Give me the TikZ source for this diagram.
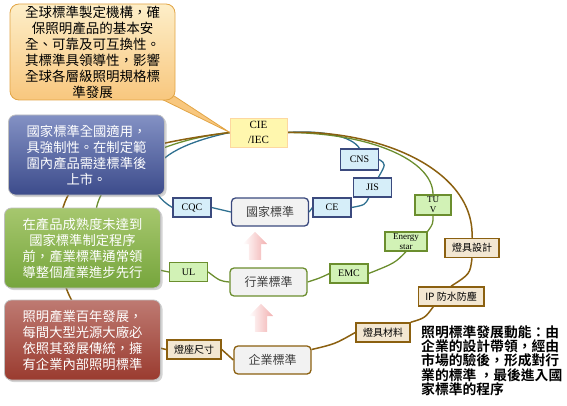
\documentclass[tikz,border=0pt]{standalone}
\usepackage{fontspec}
\usetikzlibrary{shapes.arrows,shadows,backgrounds,positioning}
\newfontfamily\cjk{Noto Sans CJK TC}[BoldFont={Noto Sans CJK TC Bold}]
\newfontfamily\lat{Liberation Serif}

\definecolor{noteTop}{HTML}{FDEEC8}
\definecolor{noteBot}{HTML}{F8C77E}
\definecolor{noteEdge}{HTML}{E2A546}
\definecolor{natTop}{HTML}{8391C4}
\definecolor{natBot}{HTML}{3C4B8B}
\definecolor{indTop}{HTML}{A6C76E}
\definecolor{indBot}{HTML}{76A53C}
\definecolor{entTop}{HTML}{BE7A72}
\definecolor{entBot}{HTML}{9A3B2F}
\definecolor{lineBlue}{HTML}{2F7090}
\definecolor{lineGreen}{HTML}{6B8E2E}
\definecolor{lineBrown}{HTML}{8B6010}
\definecolor{edgeBlue}{HTML}{3B4A7E}
\definecolor{tagBlue}{HTML}{D6EEF9}
\definecolor{tagGreen}{HTML}{D2F2B6}
\definecolor{tagBrown}{HTML}{F3E7D2}
\definecolor{cieFill}{HTML}{FFF7AE}
\definecolor{arrowPink}{HTML}{F2AFAF}

\tikzset{
  bigbox/.style={rounded corners=7pt, draw=white!75!black, line width=0.8pt,
    minimum width=156pt, minimum height=80pt, inner sep=0pt, align=center,
    text=white, font=\cjk\fontsize{13.3}{16}\selectfont,
    drop shadow={opacity=0.35, shadow xshift=2pt, shadow yshift=-2pt}},
  stdnode/.style={rounded corners=4pt, fill=black!5, line width=1.3pt,
    minimum width=77pt, minimum height=28pt, text=black!75,
    font=\cjk\fontsize{12}{14}\selectfont},
  bluetag/.style={draw=edgeBlue, fill=tagBlue, line width=1.2pt,
    minimum width=38pt, minimum height=19pt, inner sep=0pt,
    font=\lat\fontsize{10}{10}\selectfont},
  greentag/.style={draw=lineGreen, fill=tagGreen, line width=1.2pt,
    minimum width=38pt, minimum height=19pt, inner sep=0pt, align=center,
    font=\lat\fontsize{10}{10}\selectfont},
  browntag/.style={draw=lineBrown, fill=tagBrown, line width=1.5pt,
    minimum height=19pt, inner xsep=7pt, inner ysep=0pt,
    font=\cjk\fontsize{10}{10}\selectfont},
  uparrow/.style={single arrow, rotate=90, minimum height=28pt, inner sep=6pt,
    single arrow head extend=6pt, left color=white, right color=arrowPink},
  blueline/.style={draw=lineBlue, line width=1.3pt},
  greenline/.style={draw=lineGreen, line width=1.3pt},
  brownline/.style={draw=lineBrown, line width=1.5pt}
}

\begin{document}
\begin{tikzpicture}[x=1pt,y=-1pt]
\useasboundingbox (0,0) rectangle (567,406);

%CIE/IEC
\node[fill=cieFill, draw=noteTop!80!orange, minimum width=57pt, minimum height=29pt,
  inner sep=0pt, align=center, font=\lat\fontsize{11}{15}\selectfont] (cie) at (258.5,132.5) {CIE\\/IEC};

%Callout
\filldraw[fill=noteBot, draw=noteEdge, line width=0.8pt] (147,92) -- (cie.west) -- (168,92) -- cycle;
\node[rounded corners=9pt, top color=noteTop, bottom color=noteBot, draw=noteEdge, line width=0.8pt,
  minimum width=165pt, minimum height=96pt, inner sep=0pt, align=center,
  font=\cjk\fontsize{13.5}{16}\selectfont] (note) at (92.5,52)
  {全球標準製定機構，確\\保照明產品的基本安\\全、可靠及可互換性。\\其標準具領導性，影響\\全球各層級照明規格標\\準發展};

%Explanation boxes
\node[bigbox, top color=natTop, bottom color=natBot] (natbox) at (86.5,155)
  {國家標準全國適用，\\具強制性。在制定範\\圍內產品需達標準後\\上市。};
\node[bigbox, top color=indTop, bottom color=indBot] (indbox) at (82.5,248)
  {在產品成熟度未達到\\國家標準制定程序\\前，產業標準通常領\\導整個產業進步先行};
\node[bigbox, top color=entTop, bottom color=entBot] (entbox) at (82.5,340)
  {照明產業百年發展，\\每間大型光源大廠必\\依照其發展傳統，擁\\有企業內部照明標準};

%Standard levels
\node[stdnode, draw=edgeBlue] (guo) at (270,212) {國家標準};
\node[stdnode, draw=lineGreen] (hang) at (268.5,282) {行業標準};
\node[stdnode, draw=lineBrown] (qiye) at (272.5,360) {企業標準};
\node[uparrow] (up1) at (255,249) {};
\node[uparrow] (up2) at (261,321) {};

%National tags
\node[bluetag] (cqc) at (192,207.5) {CQC};
\node[bluetag] (ce) at (332,207.5) {CE};
\node[bluetag] (jis) at (372.5,187.5) {JIS};
\node[bluetag, minimum height=21pt] (cns) at (359.5,159.5) {CNS};

%Industry tags
\node[greentag] (ul) at (188.5,272) {UL};
\node[greentag] (emc) at (349,273.5) {EMC};
\node[greentag, minimum width=42pt, font=\lat\fontsize{9}{10}\selectfont] (energy) at (406,241.5) {Energy\\star};
\node[greentag, minimum width=36pt, minimum height=20pt, font=\lat\fontsize{9}{10}\selectfont] (tuv) at (433,205) {TU\\V};

%Enterprise tags
\node[browntag] (sheji) at (472,248) {燈具設計};
\node[browntag] (ip) at (451,296.5) {IP 防水防塵};
\node[browntag] (cailiao) at (383,332.5) {燈具材料};
\node[browntag] (zuo) at (194,349.5) {燈座尺寸};

%Summary
\node[anchor=north west, inner sep=0pt, align=left,
  font=\cjk\bfseries\fontsize{13.8}{14.4}\selectfont] (summary) at (421,325)
  {照明標準發展動能：由\\企業的設計帶領，經由\\市場的驗後，形成對行\\業的標準 ，最後進入國\\家標準的程序};

\begin{scope}[on background layer]
\coordinate (bl) at (60,245);
%Blue loop
\draw[blueline] (cqc.west) .. controls (150,195) and (125,155) .. (cie.west);
\draw[blueline] (cie.east) .. controls (322,130) and (352,136) .. (cns.north);
\draw[blueline] (cns.east) .. controls (386,164) .. (jis.60);
\draw[blueline] (jis.250) .. controls (365,205) .. (ce.east);
\draw[blueline] (ce.west) -- (guo.east);
\draw[blueline] (guo.west) -- (cqc.east);
%Green loop
\draw[greenline] (ul.west) .. controls (50,250) and (80,150) .. (cie.west);
\draw[greenline] (cie.east) .. controls (370,133) and (433,160) .. (tuv.north);
\draw[greenline] (tuv.south) .. controls (433,224) .. (energy.north east);
\draw[greenline] (energy.south) .. controls (395,263) .. (emc.east);
\draw[greenline] (emc.west) .. controls (320,278) .. (hang.east);
\draw[greenline] (hang.west) .. controls (220,281) .. (ul.east);
%Brown loop
\draw[brownline] (zuo.west) .. controls (100,335) and (60,320) .. (bl);
\draw[brownline] (bl) .. controls (55,180) and (90,150) .. (cie.west);
\draw[brownline] (cie.east) .. controls (380,129) and (475,170) .. (sheji.north);
\draw[brownline] (sheji.south) .. controls (470,274) .. (ip.north);
\draw[brownline] (ip.-150) .. controls (425,318) .. (cailiao.north east);
\draw[brownline] (cailiao.west) .. controls (335,344) .. (qiye.15);
\draw[brownline] (qiye.west) -- (zuo.east);
\end{scope}
\end{tikzpicture}
\end{document}
